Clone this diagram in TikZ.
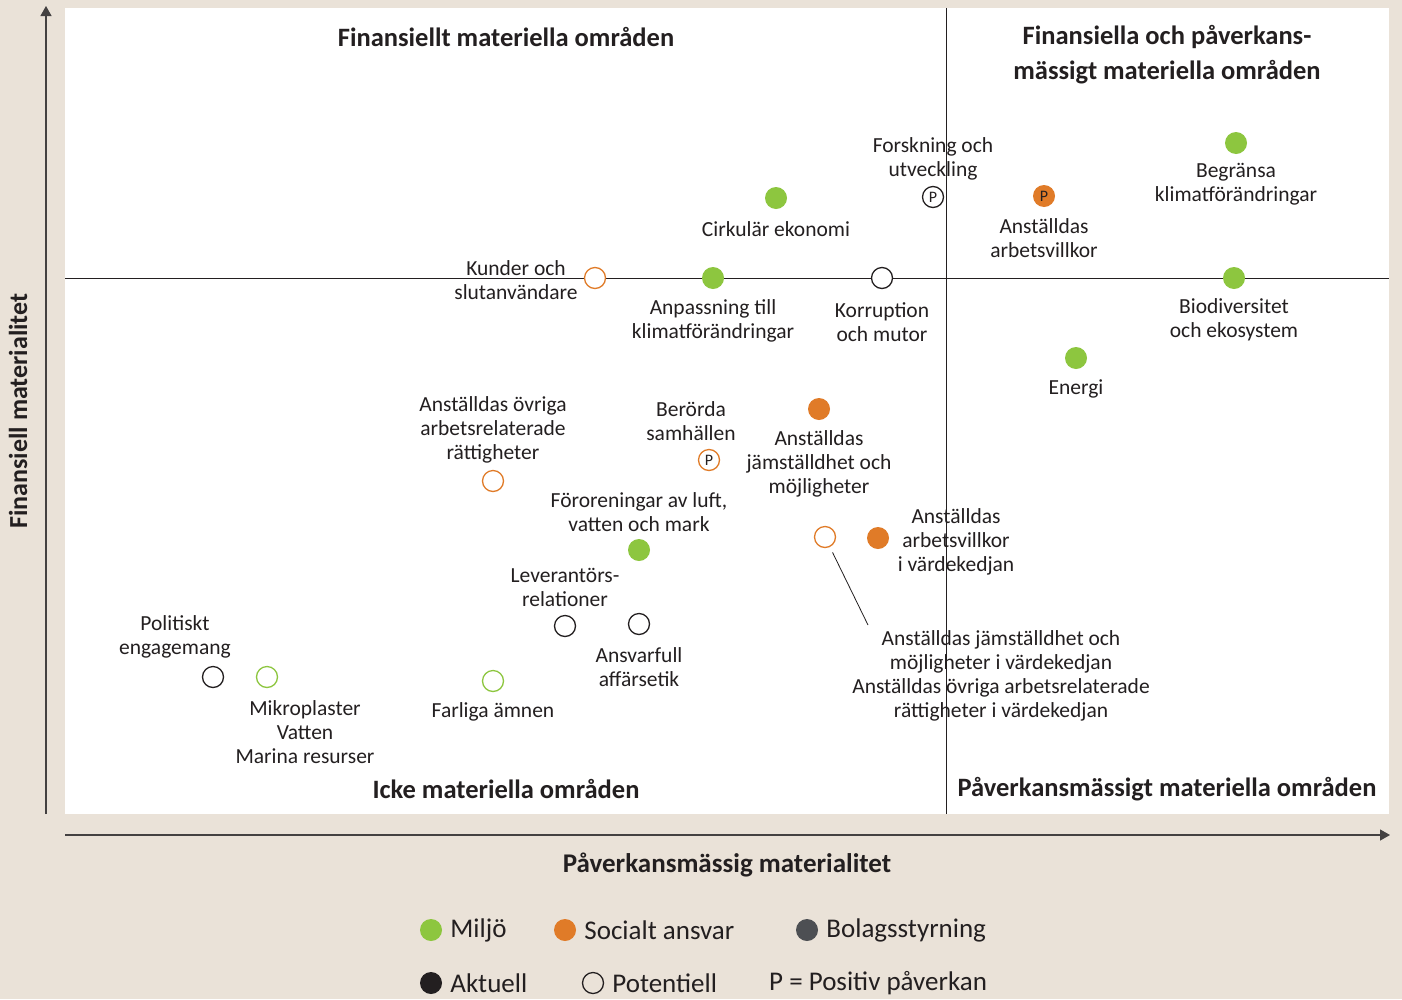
\documentclass[tikz,border=0pt]{standalone}
\usepackage{fontspec}
\setmainfont{Carlito}
\usepackage{tikz}
\usetikzlibrary{arrows.meta,positioning}
\definecolor{ink}{HTML}{231F20}
\definecolor{wood}{HTML}{EAE2D8}
\definecolor{miljo}{HTML}{8DC63F}
\definecolor{social}{HTML}{E07B28}
\definecolor{bolag}{HTML}{4D4F53}

\begin{document}
\begin{tikzpicture}[
    x=1pt, y=-1pt,
    dotfill/.style={circle, fill=#1, minimum size=22pt, inner sep=0pt, font=\fontsize{16}{16}\selectfont, text=ink},
    dotopen/.style={circle, draw=#1, fill=white, line width=1.3pt, minimum size=21pt, inner sep=0pt, font=\fontsize{16}{16}\selectfont, text=ink},
    lbl/.style={align=center, inner sep=0pt, text=ink, font=\fontsize{21.5}{24}\selectfont},
    heading/.style={align=center, inner sep=0pt, text=ink, font=\bfseries\fontsize{26.5}{35}\selectfont},
    legend/.style={anchor=west, inner sep=0pt, text=ink, font=\fontsize{27}{27}\selectfont},
    axis/.style={line width=1.2pt, draw=ink!85, -{Triangle[length=10pt,width=11pt]}},
    quad/.style={line width=1pt, draw=ink},
    leader/.style={line width=0.8pt, draw=ink},
]
    % Background
    \fill[wood] (0,0) rectangle (1402,999);
    \fill[white] (65,8) rectangle (1389,814);

    % Axes
    \coordinate (ybot) at (46,814);
    \coordinate (ytop) at (46,6);
    \coordinate (xleft) at (65,835);
    \coordinate (xright) at (1390,835);
    \draw[axis] (ybot) -- (ytop);
    \draw[axis] (xleft) -- (xright);
    \node[heading, rotate=90, font=\bfseries\fontsize{26}{26}\selectfont] (ylabel) at (18,411) {Finansiell materialitet};
    \node[heading, font=\bfseries\fontsize{27}{27}\selectfont] (xlabel) at (727,865) {Påverkansmässig materialitet};

    % Quadrants
    \coordinate (vtop) at (946,8);
    \coordinate (vbot) at (946,814);
    \coordinate (hleft) at (65,278);
    \coordinate (hright) at (1389,278);
    \draw[quad] (vtop) -- (vbot);
    \draw[quad] (hleft) -- (hright);
    \node[heading] (q1) at (506,37) {Finansiellt materiella områden};
    \node[heading] (q2) at (1167,55) {Finansiella och påverkans-\\mässigt materiella områden};
    \node[heading] (q3) at (506,789) {Icke materiella områden};
    \node[heading] (q4) at (1167,789) {Påverkansmässigt materiella områden};

    % Topics
    \node[dotfill=miljo] (begr) at (1236,143) {};
    \node[lbl] at (1236,184) {Begränsa\\klimatförändringar};
    \node[dotfill=social] (arbv) at (1044,196) {P};
    \node[lbl] at (1044,238) {Anställdas\\arbetsvillkor};
    \node[dotopen=ink] (forsk) at (933,197) {P};
    \node[lbl] at (933,159) {Forskning och\\utveckling};
    \node[dotfill=miljo] (cirk) at (776,198) {};
    \node[lbl] at (776,229) {Cirkulär ekonomi};
    \node[dotopen=social] (kund) at (595,278) {};
    \node[lbl] at (516,280) {Kunder och\\slutanvändare};
    \node[dotfill=miljo] (anpass) at (713,278) {};
    \node[lbl] at (713,321) {Anpassning till\\klimatförändringar};
    \node[dotopen=ink] (korr) at (882,278) {};
    \node[lbl] at (882,322) {Korruption\\och mutor};
    \node[dotfill=miljo] (biodiv) at (1234,278) {};
    \node[lbl] at (1234,320) {Biodiversitet\\och ekosystem};
    \node[dotfill=miljo] (energi) at (1076,358) {};
    \node[lbl] at (1076,389) {Energi};
    \node[dotfill=social] (jamst) at (819,409) {};
    \node[lbl] at (819,464) {Anställdas\\jämställdhet och\\möjligheter};
    \node[dotopen=social] (berorda) at (709,460) {P};
    \node[lbl] at (691,421) {Berörda\\samhällen};
    \node[dotopen=social] (ovriga) at (493,481) {};
    \node[lbl] at (493,430) {Anställdas övriga\\arbetsrelaterade\\rättigheter};
    \node[dotfill=miljo] (fororen) at (639,550) {};
    \node[lbl] at (639,512) {Föroreningar av luft,\\vatten och mark};
    \node[dotopen=social] (vkopen) at (825,537) {};
    \node[lbl] (vklabel) at (1001,676) {Anställdas jämställdhet och\\möjligheter i värdekedjan\\Anställdas övriga arbetsrelaterade\\rättigheter i värdekedjan};
    \node[dotfill=social] (vkarb) at (878,538) {};
    \node[lbl] at (956,542) {Anställdas\\arbetsvillkor\\i värdekedjan};
    \node[dotopen=ink] (lever) at (565,626) {};
    \node[lbl] at (565,587) {Leverantörs-\\relationer};
    \node[dotopen=ink] (ansvar) at (639,624) {};
    \node[lbl] at (639,667) {Ansvarfull\\affärsetik};
    \node[dotopen=ink] (polit) at (213,677) {};
    \node[lbl] at (175,637) {Politiskt\\engagemang};
    \node[dotopen=miljo] (mikro) at (267,677) {};
    \node[lbl] at (305,732) {Mikroplaster\\Vatten\\Marina resurser};
    \node[dotopen=miljo] (farliga) at (493,681) {};
    \node[lbl] at (493,712) {Farliga ämnen};

    % Leader line
    \coordinate (vkend) at (868,625);
    \draw[leader, shorten <=6pt] (vkopen) -- (vkend);

    % Legend
    \node[dotfill=miljo] (lmiljo) at (431,930) {};
    \node[legend, right=8pt of lmiljo] {Miljö};
    \node[dotfill=social] (lsocial) at (565,930) {};
    \node[legend, right=8pt of lsocial] {Socialt ansvar};
    \node[dotfill=bolag] (lbolag) at (807,930) {};
    \node[legend, right=8pt of lbolag] {Bolagsstyrning};
    \node[dotfill=ink] (laktuell) at (431,983) {};
    \node[legend, right=8pt of laktuell] {Aktuell};
    \node[dotopen=ink, fill=none] (lpot) at (593,983) {};
    \node[legend, right=8pt of lpot] {Potentiell};
    \node[legend] (lpos) at (769,983) {P = Positiv påverkan};
\end{tikzpicture}
\end{document}
